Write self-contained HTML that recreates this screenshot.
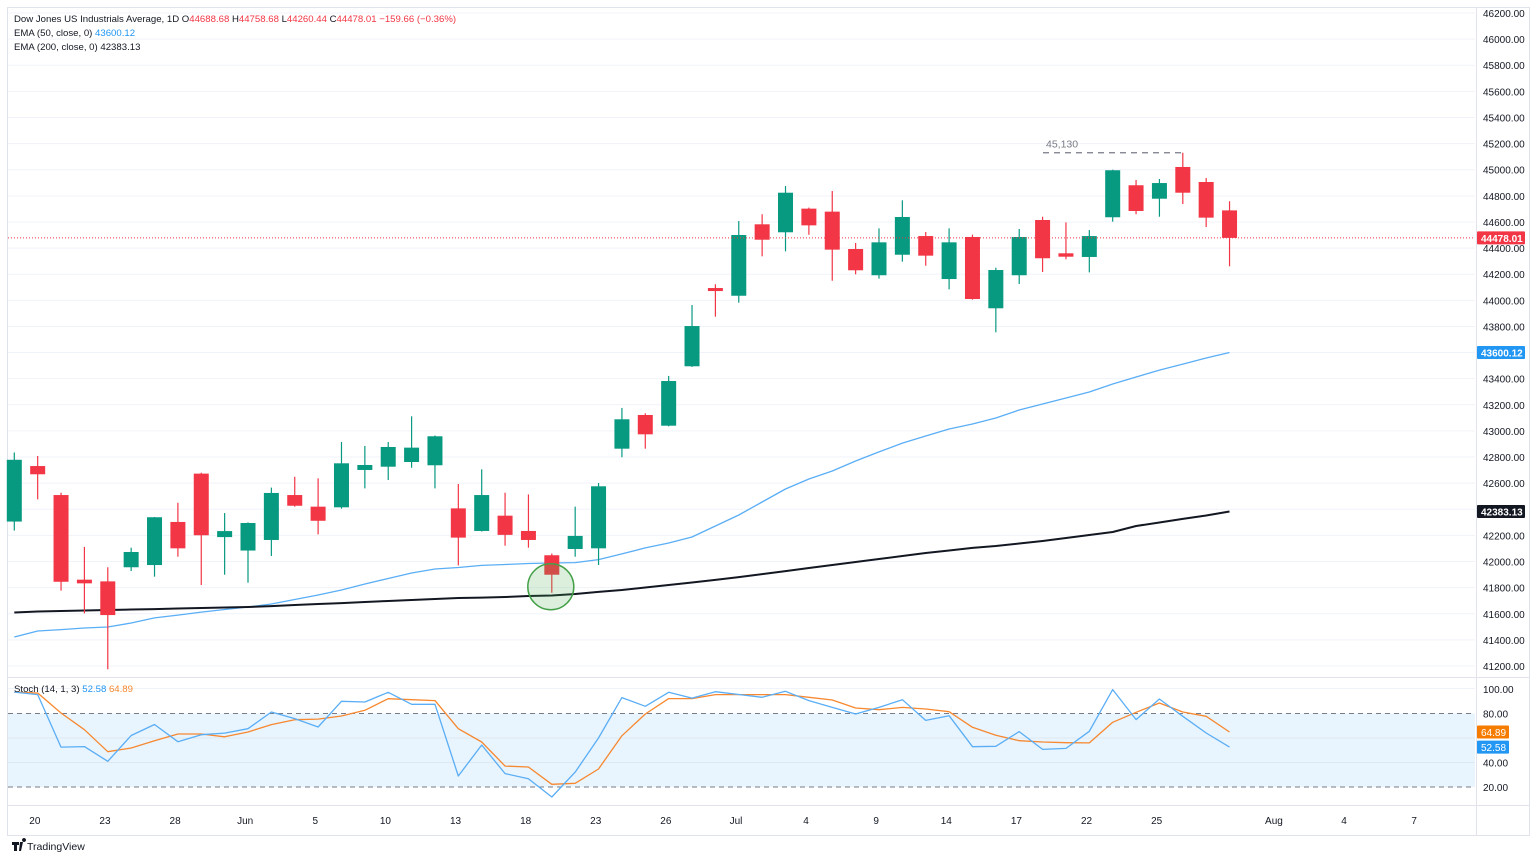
<!DOCTYPE html>
<html><head><meta charset="utf-8"><title>Dow Jones US Industrials Average, 1D</title>
<style>
html,body{margin:0;padding:0;background:#fff;}
svg{display:block;font-family:"Liberation Sans",sans-serif;}
</style></head>
<body>
<svg id="chart" width="1536" height="860" viewBox="0 0 1536 860" xmlns="http://www.w3.org/2000/svg">
<rect x="0" y="0" width="1536" height="860" fill="#fff"/>
<rect x="7.5" y="7.5" width="1522" height="828" fill="none" stroke="#e0e3eb"/>
<g id="grid"></g>
<g id="stochpane"></g>
<g id="emas"></g>
<g id="candles"></g>
<g id="overlay"></g>
<g id="axes"></g>
<g id="legend">
<text x="14" y="22" font-size="9.6" fill="#131722">Dow Jones US Industrials Average, 1D <tspan fill="#131722">O</tspan><tspan fill="#f23645">44688.68</tspan> <tspan fill="#131722">H</tspan><tspan fill="#f23645">44758.68</tspan> <tspan fill="#131722">L</tspan><tspan fill="#f23645">44260.44</tspan> <tspan fill="#131722">C</tspan><tspan fill="#f23645">44478.01</tspan> <tspan fill="#f23645">−159.66 (−0.36%)</tspan></text>
<text x="14" y="36" font-size="9.6" fill="#131722">EMA (50, close, 0) <tspan fill="#2196f3">43600.12</tspan></text>
<text x="14" y="50" font-size="9.6" fill="#131722">EMA (200, close, 0) <tspan fill="#131722">42383.13</tspan></text>
<text x="14" y="692" font-size="9.6" fill="#131722">Stoch (14, 1, 3) <tspan fill="#2196f3">52.58</tspan> <tspan fill="#f7882f">64.89</tspan></text>
</g>
<g>
<path d="M12 842h7v3h-2v6h-3v-6h-2z M20 842h3l-2 9h-2z M24 842a2 2 0 1 1 0.01 0z" fill="#131722"/>
<text x="27" y="850" font-size="10.5" fill="#131722">TradingView</text>
</g>
</svg>
<script>
const opens=[42306,42731,42509,41861,41848,41956,41973,42303,42673,42187,42084,42165,42509,42420,42415,42701,42726,42762,42737,42407,42234,42351,42234,42048,42096,42101,42864,43122,43040,43495,44094,44035,44582,44521,44702,44679,44393,44192,44349,44492,44163,44485,43939,44192,44615,44360,44332,44636,44881,44778,45021,44906,44688.68];
const highs=[42835,42808,42527,42112,41956,42106,42341,42450,42680,42371,42300,42566,42649,42637,42915,42885,42915,43112,42965,42594,42706,42527,42514,42061,42420,42601,43176,43135,43421,43964,44123,44607,44659,44875,44710,44837,44439,44551,44766,44523,44551,44503,44250,44546,44640,44597,44538,45000,44921,44929,45130,44937,44758.68];
const lows=[42237,42476,41777,41603,41175,41927,41884,42037,41820,41899,41838,42042,42420,42208,42405,42560,42624,42718,42560,41970,42230,42121,42106,41761,42037,41973,42798,42864,43035,43490,43875,43982,44337,44375,44502,44150,44199,44166,44296,44265,44084,44005,43755,44125,44217,44314,44214,44602,44659,44640,44737,44561,44260.44];
const closes=[42779,42668,41845,41833,41590,42073,42339,42101,42201,42233,42295,42525,42427,42312,42752,42739,42877,42872,42959,42183,42509,42204,42165,41899,42196,42576,43089,42974,43382,43803,44071,44500,44464,44824,44574,44388,44230,44444,44638,44342,44444,44010,44232,44485,44322,44334,44492,44996,44684,44898,44824,44633,44478.01];
const ema50=[41422,41468,41479,41491,41499,41529,41568,41590,41613,41633,41652,41675,41709,41744,41782,41828,41870,41912,41943,41954,41970,41977,41985,41989,41992,42015,42058,42104,42142,42188,42272,42356,42456,42555,42632,42693,42770,42839,42907,42961,43015,43053,43099,43160,43206,43252,43298,43359,43413,43466,43512,43558,43600.12];
const ema200=[41610,41617,41621,41625,41629,41633,41636,41640,41644,41648,41652,41659,41667,41675,41682,41690,41698,41705,41713,41721,41724,41728,41736,41740,41751,41767,41782,41801,41820,41839,41859,41881,41904,41927,41950,41973,41996,42019,42042,42065,42084,42104,42119,42138,42157,42180,42203,42226,42272,42299,42326,42352,42383.13];
const stochK=[97.5,95.4,52.6,53,41,62,71,57,62.7,64,67.6,81.2,75.8,69,90,89.4,97.3,87.5,87.5,29,54.3,30.9,26.8,11.8,32.2,60,93,85.9,97.3,92.6,97.8,95.5,93.2,98.1,90.5,85,79.6,85,91.3,74.4,78.2,52.9,53.2,65.2,50.7,51.5,65.5,99.5,75,91.8,77.7,64.1,52.58];
const stochD=[97.5,96.7,80.4,66.8,48.8,51.8,57.8,63.3,63.3,61,64.9,70.9,74.9,75.4,78,82.6,92.1,91.3,90.5,67.6,56.7,37.1,36.3,22.2,23,34.7,61.8,79.6,92.2,92.2,95.4,95.4,95.4,95.4,93.2,91,84.5,83.1,85,83.7,81.5,68.7,62.2,57.8,56.7,56.2,56,72.8,81,88.6,81.2,77.7,64.89];
const priceTicks=[46200,46000,45800,45600,45400,45200,45000,44800,44600,44400,44200,44000,43800,43600,43400,43200,43000,42800,42600,42400,42200,42000,41800,41600,41400,41200];
const stochTicks=[100,80,40,20];
const timeLabels=['20','23','28','Jun','5','10','13','18','23','26','Jul','4','9','14','17','22','25','Aug','4','7'];
const timeIdx=[0.88,3.88,6.88,9.88,12.88,15.88,18.88,21.88,24.88,27.88,30.88,33.88,36.88,39.88,42.88,45.88,48.88,53.9,56.9,59.9];
const resistance=45130;
const markerIdx=23;

const NS='http://www.w3.org/2000/svg';
const PL=8, PR=1475;
function xOf(i){return 14.3+23.37*i;}
function yP(p){return 13+(46200-p)*0.1306;}
function yS(v){return 689+(100-v)*1.225;}
function mk(tag,attrs,parent){const e=document.createElementNS(NS,tag);for(const k in attrs)e.setAttribute(k,attrs[k]);parent.appendChild(e);return e;}
const grid=document.getElementById('grid'),axes=document.getElementById('axes'),cg=document.getElementById('candles'),eg=document.getElementById('emas'),sp=document.getElementById('stochpane'),ov=document.getElementById('overlay');

priceTicks.forEach(p=>{
  const l=mk('line',{x1:PL,x2:PR,y1:yP(p),y2:yP(p),stroke:'#f0f3fa','stroke-width':1},grid);
  
  
  const t=mk('text',{x:1483,y:yP(p)+4,'font-size':10,fill:'#131722'},axes);
  t.textContent=p.toFixed(2);
  
  
});
mk('line',{x1:7,x2:1530,y1:677.5,y2:677.5,stroke:'#e0e3eb'},axes);
mk('line',{x1:7,x2:1530,y1:805.5,y2:805.5,stroke:'#e0e3eb'},axes);
mk('line',{x1:1476.5,x2:1476.5,y1:7,y2:836,stroke:'#e0e3eb'},axes);

const band=mk('rect',{x:PL,y:yS(80),width:PR-PL,height:yS(20)-yS(80),fill:'#2196f3','fill-opacity':0.1},sp);


[60,40].forEach(v=>{mk('line',{x1:PL,x2:PR,y1:yS(v),y2:yS(v),stroke:'#dfe7f0'},sp);});
mk('line',{x1:PL,x2:PR,y1:yS(100)-0.5,y2:yS(100)-0.5,stroke:'#f0f3fa'},sp);
[80,20].forEach(v=>{const l=mk('line',{x1:PL,x2:PR,y1:yS(v),y2:yS(v),stroke:'#787b86','stroke-dasharray':'5 4'},sp);
  
  });
stochTicks.forEach(v=>{const t=mk('text',{x:1483,y:yS(v)+4,'font-size':10,fill:'#131722'},axes);t.textContent=v.toFixed(2);
  
  });
function poly(arr,fy,color,w,parent,name){
  const pts=arr.map((v,i)=>xOf(i).toFixed(1)+','+fy(v).toFixed(1)).join(' ');
  const p=mk('polyline',{points:pts,fill:'none',stroke:color,'stroke-width':w,'stroke-linejoin':'round'},parent);
  
  
  return p;
}
poly(stochD,yS,'#f7882f',1.3,sp,'stoch-d-line');
poly(stochK,yS,'#5aaef5',1.3,sp,'stoch-k-line');

poly(ema50,yP,'#5aaef5',1.3,eg,'ema50-line');
poly(ema200,yP,'#131722',2,eg,'ema200-line');

const circ=mk('circle',{cx:xOf(markerIdx)-1,cy:yP(lows[markerIdx])-6,r:23,fill:'#4caf50','fill-opacity':0.2,stroke:'#43a047','stroke-width':1.5},ov);



opens.forEach((o,i)=>{
  const c=closes[i],up=c>=o,col=up?'#089981':'#f23645',x=xOf(i);
  const g=mk('g',{},cg);
  
  
  mk('line',{x1:x,x2:x,y1:yP(highs[i]),y2:yP(lows[i]),stroke:col,'stroke-width':1.2},g);
  const top=yP(Math.max(o,c)),bot=yP(Math.min(o,c));
  mk('rect',{x:x-7.5,y:top,width:15,height:Math.max(1.5,bot-top),fill:col},g);
});

const rl=mk('line',{x1:1043,x2:xOf(50),y1:yP(resistance),y2:yP(resistance),stroke:'#787b86','stroke-width':1.3,'stroke-dasharray':'6 5'},ov);


const rt=mk('text',{x:1046,y:yP(resistance)-5,'font-size':10.5,fill:'#787b86'},ov);
rt.textContent='45,130';



const last=closes[closes.length-1];
mk('line',{x1:PL,x2:PR,y1:yP(last),y2:yP(last),stroke:'#f23645','stroke-width':1,'stroke-dasharray':'1 2'},ov);

function badge(y,txt,bg,name){
  const g=mk('g',{},axes);
  
  
  mk('rect',{x:1477,y:y-6.5,width:48,height:13,fill:bg,rx:1},g);
  const t=mk('text',{x:1481,y:y+4,'font-size':10,fill:'#fff','font-weight':'bold'},g);t.textContent=txt;
}
badge(yP(last),last.toFixed(2),'#f23645','last-price-badge');
badge(yP(ema50[ema50.length-1]),ema50[ema50.length-1].toFixed(2),'#2196f3','ema50-badge');
badge(yP(ema200[ema200.length-1]),ema200[ema200.length-1].toFixed(2),'#131722','ema200-badge');
function sbadge(y,txt,bg,name){
  const g=mk('g',{},axes);
  
  
  mk('rect',{x:1477,y:y-6.5,width:32,height:13,fill:bg,rx:1},g);
  const t=mk('text',{x:1481,y:y+4,'font-size':10,fill:'#fff'},g);t.textContent=txt;
}
sbadge(yS(stochD[stochD.length-1]),stochD[stochD.length-1].toFixed(2),'#f57c00','stoch-d-badge');
sbadge(yS(stochK[stochK.length-1]),stochK[stochK.length-1].toFixed(2),'#2196f3','stoch-k-badge');

timeLabels.forEach((s,k)=>{
  const t=mk('text',{x:xOf(timeIdx[k]),y:824,'font-size':10,fill:'#131722','text-anchor':'middle'},axes);
  t.textContent=s;
  
  
});
</script>
</body></html>
